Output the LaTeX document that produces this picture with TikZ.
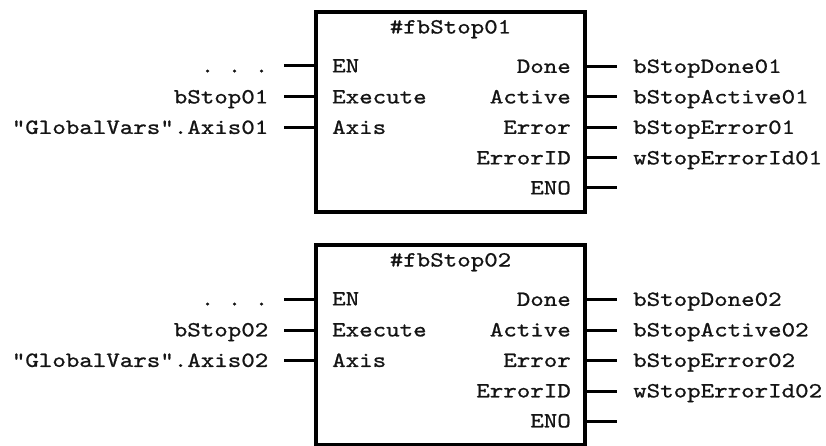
\documentclass[tikz,border=0pt]{standalone}
\usepackage{fontspec}
% slab-serif typewriter face, widened to the pitch of the block editor
\newfontfamily\plcfont[FakeStretch=1.19, FakeBold=0.9]{lmmono10-regular.otf}
\begin{document}
\begin{tikzpicture}[x=1pt, y=-1pt,
  font=\plcfont\fontsize{21.6}{26}\selectfont,
  fbbox/.style={draw, line width=3.4pt, minimum width=269pt, minimum height=200pt, inner sep=0pt},
  wire/.style={line width=3pt},
  txt/.style={inner sep=0pt, text=black!92},
  inl/.style={txt, anchor=base west},
  inr/.style={txt, anchor=base east},
  outl/.style={txt, anchor=base east},
  outr/.style={txt, anchor=base west},
  ttl/.style={txt, anchor=base}]
\useasboundingbox (0,0) rectangle (826,446);

% ---- two function block calls of the stop instruction ----
\foreach \n/\top in {01/12, 02/245}{
  \pgfmathsetmacro{\cy}{\top+100}
  \node[fbbox] (fb\n) at (450.5,\cy) {};
  \node[ttl] (title\n) at (450.5,\top+21.5) {\#fbStop\n};

  % inputs
  \foreach \k/\dy/\pinname/\actual in {
      en/54/EN/{.\ .\ .},
      ex/85/Execute/bStop\n,
      ax/115.5/Axis/"GlobalVars".Axis\n}{
    \node[inl] (p\k\n) at (332,\top+\dy+6.4) {\pinname};
    \node[outl] (a\k\n) at (268.5,\top+\dy+6.4) {\actual};
    \coordinate (w\k\n) at (284,\top+\dy);
    \draw[wire] (w\k\n) -- (w\k\n -| fb\n.west);
  }

  % outputs
  \foreach \k/\dy/\pinname/\actual in {
      dn/54.5/Done/bStopDone\n,
      ac/85/Active/bStopActive\n,
      er/115.5/Error/bStopError\n,
      id/146/ErrorID/wStopErrorId\n,
      eo/176/ENO/{}}{
    \node[inr] (p\k\n) at (571,\top+\dy+6.4) {\pinname};
    \node[outr] (a\k\n) at (633,\top+\dy+6.4) {\actual};
    \coordinate (w\k\n) at (617,\top+\dy);
    \draw[wire] (fb\n.east |- w\k\n) -- (w\k\n);
  }
}
\end{tikzpicture}
\end{document}
